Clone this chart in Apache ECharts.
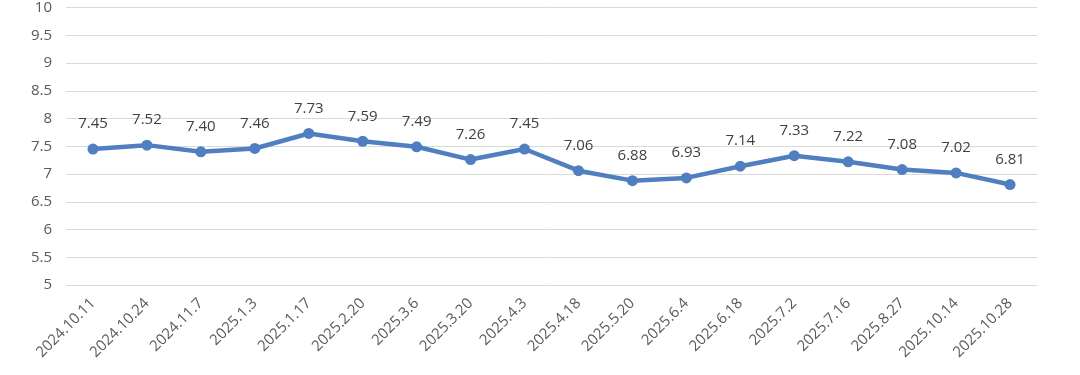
<!DOCTYPE html>
<html>
<head>
<meta charset="utf-8">
<script src="https://cdn.jsdelivr.net/npm/echarts@6/dist/echarts.min.js"></script>
<style>
  html, body { margin: 0; padding: 0; background: #fff; }
  #line-chart { width: 1080px; height: 375px; }
</style>
</head>
<body>
<div id="line-chart"></div>
<script>
// 日期（横轴）
const dates = ['2024.10.11', '2024.10.24', '2024.11.7', '2025.1.3', '2025.1.17', '2025.2.20',
  '2025.3.6', '2025.3.20', '2025.4.3', '2025.4.18', '2025.5.20', '2025.6.4', '2025.6.18',
  '2025.7.2', '2025.7.16', '2025.8.27', '2025.10.14', '2025.10.28'];
// 数值
const values = [7.45, 7.52, 7.40, 7.46, 7.73, 7.59, 7.49, 7.26, 7.45, 7.06, 6.88, 6.93, 7.14,
  7.33, 7.22, 7.08, 7.02, 6.81];
const yMin = 5;
const yMax = 10;
const yStep = 0.5;

const chart = echarts.init(document.getElementById('line-chart'));
const fontFamily = '"Open Sans", "Noto Sans", sans-serif';

chart.setOption({
  animation: false,
  grid: { left: 66, right: 43, top: 7, bottom: 90 },
  xAxis: {
    type: 'category',
    data: dates,
    boundaryGap: true,
    axisLine: { show: false },
    axisTick: { show: false },
    axisLabel: {
      rotate: 45,
      interval: 0,
      margin: 16,
      color: '#595959',
      fontSize: 15,
      fontFamily: fontFamily
    }
  },
  yAxis: {
    type: 'value',
    min: yMin,
    max: yMax,
    interval: yStep,
    axisLine: { show: false },
    axisTick: { show: false },
    axisLabel: {
      color: '#595959',
      fontSize: 15,
      margin: 14,
      fontFamily: fontFamily
    },
    splitLine: { lineStyle: { color: '#d9d9d9', width: 1 } }
  },
  series: [{
    type: 'line',
    data: values,
    symbol: 'circle',
    symbolSize: 11,
    lineStyle: { color: '#4f7fc0', width: 4.5 },
    itemStyle: { color: '#4f7fc0' },
    label: {
      show: true,
      position: 'top',
      distance: 12,
      color: '#404040',
      fontSize: 15,
      fontFamily: fontFamily,
      formatter: p => p.value.toFixed(2)
    }
  }]
});
</script>
</body>
</html>
